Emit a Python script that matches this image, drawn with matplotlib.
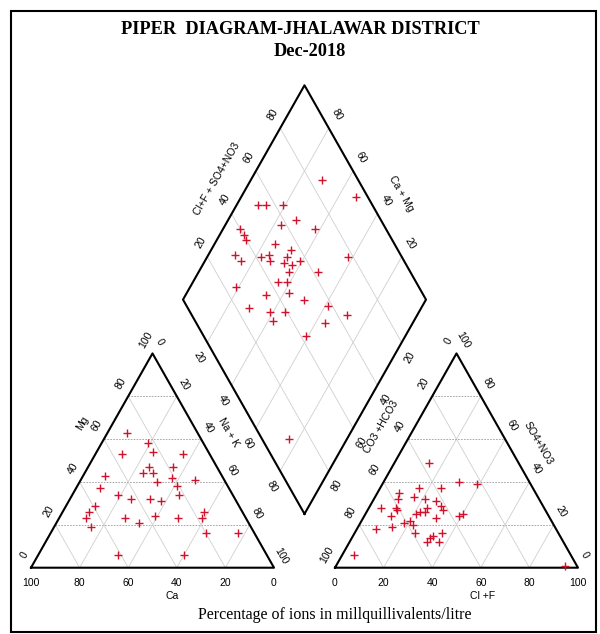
import numpy as np
import matplotlib
matplotlib.use("Agg")
import matplotlib.pyplot as plt
from matplotlib.patches import Rectangle

# ── Sample chemistry (% meq/l) ───────────────────────────────────────────────
# cation triangle
CAT_CA  = [29, 23, 36, 23, 11, 28, 18, 32, 28, 48, 21, 28, 12, 21, 53, 47, 43,
           35, 31, 22, 59, 63, 66, 66, 50, 45, 37, 28, 16, 18, 20, 7, 61, 34]
CAT_MG  = [63, 58, 53, 54, 53, 47, 47, 44, 44, 43, 42, 40, 41, 38, 37, 34, 32,
           32, 31, 34, 29, 26, 23, 19, 23, 21, 24, 23, 26, 23, 16, 16, 6, 6]
CAT_NAK = [8, 19, 11, 23, 36, 25, 35, 24, 28, 9, 37, 32, 47, 41, 10, 19, 25,
           33, 38, 44, 12, 11, 11, 15, 27, 34, 39, 49, 58, 59, 64, 77, 33, 60]

# anion triangle
AN_CLF  = [14, 31, 39, 25, 16, 9, 10, 16, 21, 26, 29, 24, 31, 5, 11, 12, 22, 24,
           30, 21, 39, 40, 11, 14, 8, 18, 20, 22, 25, 32, 33, 36, 37, 32, 5, 94]
AN_SO4  = [49, 40, 39, 37, 37, 35, 32, 33, 32, 31, 29, 28, 27, 28, 28, 27, 26, 26,
           23, 25, 24, 25, 24, 19, 18, 21, 22, 20, 16, 14, 15, 16, 12, 12, 6, 1]
AN_HCO3 = [37, 29, 22, 38, 47, 56, 58, 51, 47, 43, 42, 48, 42, 67, 61, 61, 52, 50,
           47, 54, 37, 35, 65, 67, 74, 61, 58, 58, 59, 54, 52, 48, 51, 56, 89, 5]

# diamond field
DIA_CAMG  = [71, 53, 91, 88, 81, 72, 77, 62, 93, 90, 88, 75, 89, 85, 78, 75, 73,
             67, 67, 67, 63, 61, 63, 51, 42, 81, 67, 65, 61, 58, 50, 71, 61, 55,
             58, 39, 29, 36, 41, 24]
DIA_CLSO4 = [85, 95, 53, 56, 63, 65, 58, 71, 40, 40, 40, 51, 32, 33, 42, 46, 45,
             53, 56, 50, 53, 57, 50, 62, 78, 25, 35, 43, 47, 45, 50, 25, 33, 39,
             32, 58, 64, 53, 42, 11]

TICKS = [0, 20, 40, 60, 80, 100]

# ── Geometry ─────────────────────────────────────────────────────────────────
H   = np.sqrt(3) / 2          # triangle height (side = 1)
GAP = 0.251                   # gap between the two triangles
RX0 = 1 + GAP                 # left corner of anion triangle
B = np.array([1 + GAP / 2, GAP * H])      # diamond bottom vertex
L = B + np.array([-0.5, H])
R = B + np.array([0.5, H])
T = L + R - B

RED   = "#d0122c"
GRID  = "#cfcfcf"
HGRID = "#9a9a9a"
SANS  = "Liberation Sans"
SERIF = "Liberation Serif"


def cation_xy(ca, mg, nak):
    tot = np.asarray(ca) + np.asarray(mg) + np.asarray(nak)
    m, n = np.asarray(mg) / tot, np.asarray(nak) / tot
    return n + m / 2, m * H


def anion_xy(cl, so4, hco3):
    tot = np.asarray(cl) + np.asarray(so4) + np.asarray(hco3)
    c, s = np.asarray(cl) / tot, np.asarray(so4) / tot
    return RX0 + c + s / 2, s * H


def diamond_xy(camg, clso4):
    cm, a = np.asarray(camg) / 100, np.asarray(clso4) / 100
    p = B[None, :] + cm[:, None] * (L - B)[None, :] + a[:, None] * (R - B)[None, :]
    return p[:, 0], p[:, 1]


fig = plt.figure(figsize=(6.0, 6.34), dpi=100)
ax = fig.add_axes([0, 0, 1, 1])
ax.set_xlim(-0.1276, 2.3416)
ax.set_ylim(-0.2679, 2.2941)
ax.axis("off")


def line(p, q, **kw):
    ax.plot([p[0], q[0]], [p[1], q[1]], **kw)


# ── Grid lines ───────────────────────────────────────────────────────────────
for v in [0.2, 0.4, 0.6, 0.8]:
    for x0 in [0.0, RX0]:
        # horizontal (Mg / SO4 levels) dashed
        line((x0 + v / 2, v * H), (x0 + 1 - v / 2, v * H),
             color=HGRID, lw=0.6, ls=(0, (2, 1.5)), zorder=1)
        # slanted
        line((x0 + v, 0), (x0 + v + (1 - v) / 2, (1 - v) * H), color=GRID, lw=0.6, zorder=1)
        line((x0 + 1 - v, 0), (x0 + (1 - v) / 2, (1 - v) * H), color=GRID, lw=0.6, zorder=1)
    # diamond
    line(B + v * (L - B), B + v * (L - B) + (R - B), color=GRID, lw=0.6, zorder=1)
    line(B + v * (R - B), B + v * (R - B) + (L - B), color=GRID, lw=0.6, zorder=1)

# ── Outlines ─────────────────────────────────────────────────────────────────
for x0 in [0.0, RX0]:
    ax.plot([x0, x0 + 1, x0 + 0.5, x0], [0, 0, H, 0], color="black", lw=1.5, zorder=3)
ax.plot([B[0], L[0], T[0], R[0], B[0]], [B[1], L[1], T[1], R[1], B[1]],
        color="black", lw=1.5, zorder=3)

# ── Samples ──────────────────────────────────────────────────────────────────
mk = dict(ls="none", marker="+", color=RED, ms=5.5, mew=1.0, zorder=4)
ax.plot(*cation_xy(CAT_CA, CAT_MG, CAT_NAK), **mk)
ax.plot(*anion_xy(AN_CLF, AN_SO4, AN_HCO3), **mk)
ax.plot(*diamond_xy(DIA_CAMG, DIA_CLSO4), **mk)

# ── Tick labels ──────────────────────────────────────────────────────────────
tk = dict(fontsize=7.5, family=SANS, ha="center", va="center",
          rotation_mode="anchor", textcoords="offset points")


def tick(txt, xy, off, rot):
    ax.annotate(txt, xy=xy, xytext=off, rotation=rot, **tk)


for v in TICKS:
    f = v / 100
    # cation triangle
    tick(str(v), (1 - f, 0), (0, -11), 0)                          # Ca
    tick(str(v), (f / 2, f * H), (-5, 9.5), 60)                    # Mg
    tick(str(v), (0.5 + f / 2, (1 - f) * H), (5, 8.5), -60)        # Na+K
    # anion triangle
    tick(str(v), (RX0 + f, 0), (0, -11), 0)                        # Cl+F
    tick(str(v), (RX0 + 0.5 - f / 2, (1 - f) * H), (-6, 9), 60)    # CO3+HCO3
    tick(str(v), (RX0 + 1 - f / 2, f * H), (5, 9.5), -60)          # SO4+NO3

for v in TICKS[1:-1]:
    f = v / 100
    tick(str(v), L + f * (T - L), (-5, 10), 60)                    # Cl+SO4
    tick(str(v), R + f * (T - R), (6, 9.5), -60)                   # Ca+Mg
    tick(str(v), L + f * (B - L), (-6, -11), -60)                  # Na+K
    tick(str(v), R + f * (B - R), (6, -10.5), 60)                  # CO3+HCO3

# ── Axis names ───────────────────────────────────────────────────────────────
nm = dict(fontsize=7.5, family=SANS, ha="center", va="center", rotation_mode="anchor")
ax.text(0.580, -0.114, "Ca", **nm)
ax.text(0.210, 0.585, "Mg", rotation=60, **nm)
ax.text(0.811, 0.548, "Na + K", rotation=-60, **nm)
ax.text(1.860, -0.114, "Cl +F", **nm)
ax.text(1.440, 0.568, "CO3 +HCO3", rotation=60, **nm)
ax.text(2.086, 0.504, "SO4+NO3", rotation=-60, **nm)
ax.text(0.767, 1.571, "Cl+F + SO4+NO3", rotation=60, **nm)
ax.text(1.523, 1.510, "Ca + Mg", rotation=-60, **nm)

# ── Titles ───────────────────────────────────────────────────────────────────
ax.text(1.107, 2.173, "PIPER  DIAGRAM-JHALAWAR DISTRICT", fontsize=13.2,
        family=SERIF, weight="bold", ha="center", va="center")
ax.text(1.148, 2.088, "Dec-2018", fontsize=13.2, family=SERIF, weight="bold",
        ha="center", va="center")
ax.text(1.251, -0.1915, "Percentage of ions in millquillivalents/litre",
        fontsize=11.5, family=SERIF, ha="center", va="center")

# frame around the whole figure
fig.patches.append(Rectangle((11 / 600, 2 / 634), 585 / 600, 621 / 634,
                             transform=fig.transFigure, fill=False,
                             edgecolor="black", lw=1.5))

fig.savefig("out.png", dpi=100, facecolor="white")
